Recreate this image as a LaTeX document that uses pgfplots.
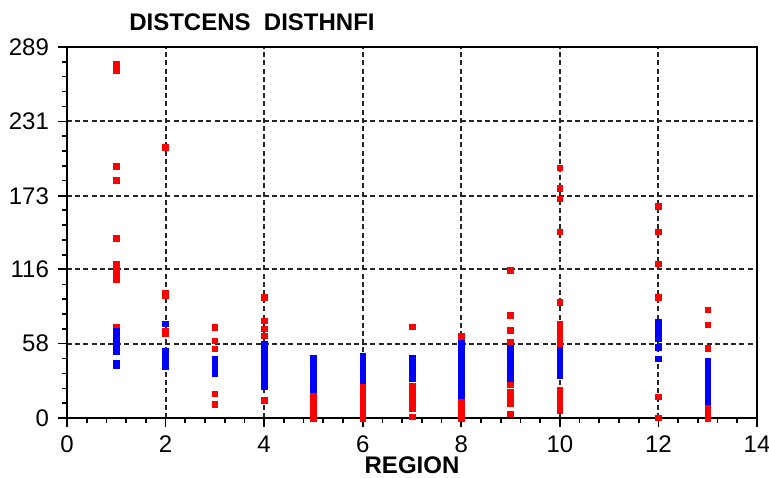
\documentclass[border=0pt]{standalone}
\usepackage{fontspec}
\setmainfont{Liberation Sans}
\usepackage{pgfplots}
\pgfplotsset{compat=1.18}
\begin{document}
\begin{tikzpicture}
\begin{axis}[
  name=ax,
  scale only axis=true,
  width=345pt, height=185.5pt,
  xmin=0, xmax=14, ymin=0, ymax=289,
  xtick={0,2,...,14},
  ytick={0,58,116,173,231,289},
  minor x tick num=4,
  minor ytick={11.6,23.1,34.7,46.2,69.4,80.9,92.5,104.0,127.2,138.7,150.3,161.8,184.9,196.5,208.0,219.6,242.8,254.3,265.9,277.4},
  xtick pos=left, ytick pos=left,
  tick align=outside,
  major tick length=4.5pt, minor tick length=2.5pt,
  tick style={black, line width=0.8pt},
  axis line style={black, line width=1pt},
  grid=major,
  major grid style={black!85, line width=1pt, dash pattern=on 2.5pt off 1.6pt},
  /pgf/number format/assume math mode=true,
  ticklabel style={font=\fontsize{12}{14}\selectfont},
  yticklabel style={xshift=-1pt},
  xticklabel style={yshift=-1pt},
  xlabel={REGION},
  xlabel style={font=\fontsize{12}{14}\selectfont\bfseries, yshift=5pt},
  title={DISTCENS\ \ DISTHNFI},
  title style={at={(0.08,1)}, anchor=base west, yshift=2pt, font=\fontsize{12}{14}\selectfont\bfseries},
  clip=false,
]
% DISTCENS (red)
\addplot[only marks, mark=square*, mark size=1.4pt, color=red, mark options={line width=0.3pt}] coordinates {
 (1,276) (1,271) (1,196) (1,185) (1,140) (1,120) (1,117) (1,113) (1,108) (1,70.5)
 (2,211) (2,97.5) (2,95.5) (2,68) (2,66)
 (3,70.5) (3,60) (3,54) (3,41.8) (3,19) (3,10.7)
 (4,94) (4,75.8) (4,69.5) (4,64) (4,53) (4,45) (4,27.5) (4,13.9)
 (5,0) (5,3) (5,6) (5,9) (5,12) (5,15) (5,17.5) (5,29.5)
 (6,0) (6,3) (6,6) (6,9) (6,12) (6,15) (6,18) (6,21) (6,24.5)
 (7,71) (7,1) (7,7.5) (7,10.5) (7,13.5) (7,16.5) (7,19.5) (7,22.5) (7,24.5)
 (8,63.5) (8,27) (8,0) (8,3) (8,6) (8,9) (8,12.5)
 (9,115) (9,80) (9,68.4) (9,59) (9,26) (9,11) (9,14) (9,17) (9,20.5) (9,3.4)
 (10,195) (10,179) (10,170.6) (10,145) (10,90) (10,73) (10,70) (10,67) (10,64) (10,61) (10,57)
 (10,6) (10,9) (10,12) (10,15) (10,18) (10,21.5)
 (12,165) (12,145) (12,120) (12,94) (12,16.5) (12,0.2)
 (13,84.4) (13,72.6) (13,54.3) (13,0) (13,3) (13,7.5)
};
% DISTHNFI (blue)
\addplot[only marks, mark=square*, mark size=1.4pt, color=blue, mark options={line width=0.3pt}] coordinates {
 (1,51.5) (1,54.5) (1,57.5) (1,60.5) (1,63.5) (1,67.5) (1,41) (1,43)
 (2,73.5) (2,40.5) (2,43.5) (2,46.5) (2,49.5) (2,52.5)
 (3,34.5) (3,37.5) (3,40.5) (3,43.5) (3,45.5)
 (4,24.5) (4,27.5) (4,30.5) (4,33.5) (4,36.5) (4,39.5) (4,42.5) (4,45.5) (4,48.5) (4,51.5) (4,54.5) (4,57.5)
 (5,22.5) (5,25.5) (5,28.5) (5,31.5) (5,34.5) (5,37.5) (5,40.5) (5,43.5) (5,46.5)
 (6,29.5) (6,32.5) (6,35.5) (6,38.5) (6,41.5) (6,44.5) (6,48.5)
 (7,30.5) (7,33.5) (7,36.5) (7,39.5) (7,42.5) (7,46.5)
 (8,17.5) (8,20.5) (8,23.5) (8,26.5) (8,29.5) (8,32.5) (8,35.5) (8,38.5) (8,41.5) (8,44.5) (8,47.5) (8,50.5) (8,53.5) (8,56.5) (8,58.5)
 (9,30.5) (9,33.5) (9,36.5) (9,39.5) (9,42.5) (9,45.5) (9,48.5) (9,51.5) (9,54.5)
 (10,33.5) (10,36.5) (10,39.5) (10,42.5) (10,45.5) (10,48.5) (10,51.5) (10,53)
 (12,62) (12,65) (12,68) (12,71) (12,74.5) (12,55) (12,46)
 (13,12.5) (13,15.5) (13,18.5) (13,21.5) (13,24.5) (13,27.5) (13,30.5) (13,33.5) (13,36.5) (13,39.5) (13,42.5) (13,44.5)
};
\end{axis}
\pgfresetboundingbox
\useasboundingbox ([xshift=-33.5pt,yshift=-29.5pt]ax.south west) rectangle ([xshift=6pt,yshift=23.5pt]ax.north east);
\end{tikzpicture}
\end{document}
